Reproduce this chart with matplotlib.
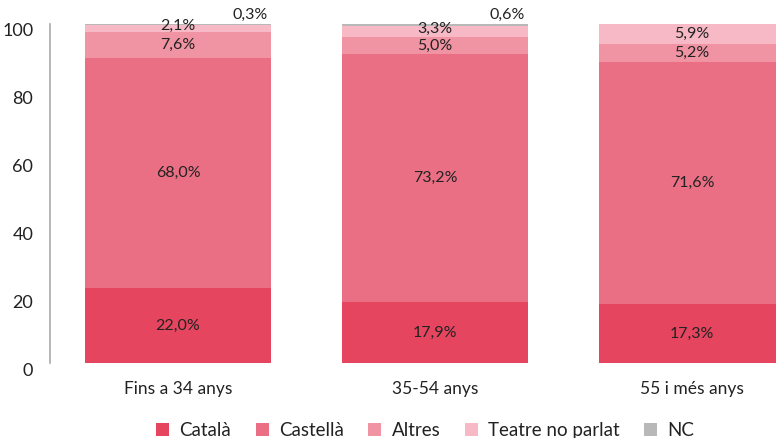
import matplotlib
matplotlib.use("Agg")
from matplotlib import pyplot as plt
from matplotlib import transforms
import numpy as np

plt.rcParams['font.family'] = ['Lato', 'DejaVu Sans']

groups = ["Fins a 34 anys", "35-54 anys", "55 i més anys"]
series = ["Català", "Castellà", "Altres", "Teatre no parlat", "NC"]
catala = [22.0, 17.9, 17.3]
castella = [68.0, 73.2, 71.6]
altres = [7.6, 5.0, 5.2]
teatre = [2.1, 3.3, 5.9]
nc = [0.3, 0.6, 0.0]
colors = ["#E5455F", "#EA6F84", "#F093A2", "#F6B9C5", "#B8B8B8"]

values = [catala, castella, altres, teatre, nc]

fig = plt.figure(figsize=(7.76, 4.38), dpi=100)
ax = fig.add_axes([50/776, 75/438, 1 - 50/776, 339/438])

x = np.arange(len(groups))
width = 0.724
bottom = np.zeros(len(groups))
for name, vals, c in zip(series, values, colors):
    vals = np.array(vals)
    ax.bar(x, vals, width, bottom=bottom, color=c, label=name, linewidth=0)
    for i, v in enumerate(vals):
        if v <= 0:
            continue
        txt = f"{v:.1f}%".replace(".", ",")
        if name == "NC":
            ax.text(x[i] + width/2 - 0.08, 102.7, txt, ha="center", va="center",
                    fontsize=11.5, color="#222222")
        else:
            ypos = bottom[i] + v/2
            if v < 4:
                ypos += 0.9   # small slice, label nudged up like the original
            ax.text(x[i], ypos, txt, ha="center", va="center",
                    fontsize=11.5, color="#222222")
    bottom += vals

ax.set_xlim(-0.498, 2.327)
ax.set_ylim(0, 100)
ax.set_yticks([0, 20, 40, 60, 80, 100])
ax.set_xticks(x)
ax.set_xticklabels(groups)
ax.tick_params(axis="y", length=0, pad=12, labelsize=13, labelcolor="#222222")
ax.tick_params(axis="x", length=0, pad=13, labelsize=12.5, labelcolor="#222222")
# tick labels sit a little below their gridline in the original
shift = transforms.ScaledTranslation(0, -6/100, fig.dpi_scale_trans)
for lbl in ax.get_yticklabels():
    lbl.set_transform(lbl.get_transform() + shift)
for s in ["top", "right", "bottom"]:
    ax.spines[s].set_visible(False)
ax.spines["left"].set_color("#AAAAAA")
ax.spines["left"].set_linewidth(1.2)

fig.legend(loc="lower center", bbox_to_anchor=(0.548, -0.04), ncol=5, frameon=False,
           fontsize=13.5, handlelength=0.7, handleheight=0.7, handletextpad=0.55,
           columnspacing=1.3, labelcolor="#222222")

fig.savefig("out.png", dpi=100)
